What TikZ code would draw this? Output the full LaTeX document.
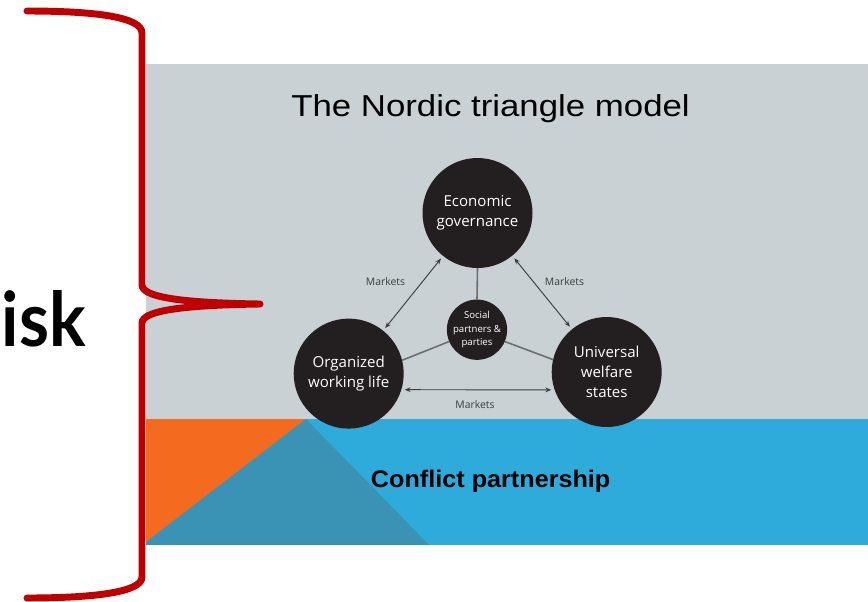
\documentclass[tikz,border=0pt]{standalone}
\usepackage{fontspec}
\usepackage{graphicx}
\setmainfont{Open Sans}
\newfontfamily\titlefont{Liberation Sans}
\newfontfamily\riskfont{Lato}
\usetikzlibrary{arrows.meta}
\definecolor{panelgray}{HTML}{C9D1D4}
\definecolor{bandblue}{HTML}{2EAADB}
\definecolor{bandteal}{HTML}{3A93B4}
\definecolor{bandorange}{HTML}{F46A1F}
\definecolor{bracketred}{HTML}{C00000}
\definecolor{discblack}{HTML}{231F20}
\definecolor{linkgray}{HTML}{6E6E6E}
\definecolor{arrowgray}{HTML}{3C3C3C}
\tikzset{
  disc/.style={circle, fill=discblack, text=white, inner sep=0pt, outer sep=0pt, align=center},
  bigdisc/.style={disc, minimum size=82.5pt, font=\fontsize{11.3}{15}\selectfont},
  smalldisc/.style={disc, minimum size=45pt, font=\fontsize{7.2}{10.3}\selectfont},
  link/.style={draw=linkgray, line width=1.2pt},
  mkt/.style={draw=arrowgray, line width=0.7pt, {Stealth[length=4.5pt,width=3.5pt]}-{Stealth[length=4.5pt,width=3.5pt]}, shorten <=2.5pt, shorten >=2.5pt},
  mktlabel/.style={font=\fontsize{7.8}{9}\selectfont, text=arrowgray, inner sep=0pt},
  brace/.style={draw=bracketred, line width=5.2pt, line cap=round, line join=round}
}
\begin{document}
\begin{tikzpicture}[x=0.75pt,y=-0.75pt]
\useasboundingbox (0,0) rectangle (868,601);
\fill[white] (0,0) rectangle (868,601);
% panels
\fill[panelgray] (146,64) rectangle (868,419);
\fill[bandblue] (146,419) rectangle (868,545);
\fill[bandorange] (146,419) -- (306,419) -- (146,542) -- cycle;
\fill[bandteal] (306,419) -- (146,542) -- (146,545) -- (429,545) -- cycle;
% title
\node[anchor=base west, inner sep=0pt, text=black] (title) at (291,116.7)
  {\scalebox{1.15}[1]{\titlefont\fontsize{22.7}{26}\selectfont The Nordic triangle model}};
% discs
\node[bigdisc] (eco) at (477.5,213) {Economic\\governance};
\node[bigdisc] (org) at (348.7,373.6) {Organized\\working life};
\node[bigdisc] (uni) at (606.7,372) {Universal\\welfare\\states};
\node[smalldisc] (soc) at (477,329.7) {Social\\partners \&\\parties};
% links to the centre
\draw[link] (eco.south) -- (soc.north);
\draw[link] (soc.203) -- (org.14.5);
\draw[link] (soc.-23) -- (uni.167);
% market arrows
\draw[mkt] (org) -- (eco);
\draw[mkt] (eco) -- (uni);
\draw[mkt] (org.-17) -- (uni.-161);
\node[mktlabel] (m1) at (385.5,282) {Markets};
\node[mktlabel] (m2) at (564.5,282) {Markets};
\node[mktlabel] (m3) at (475,405) {Markets};
% conflict partnership
\node[inner sep=0pt, text=black] (cp) at (490.7,481)
  {\scalebox{1.05}[1]{\titlefont\bfseries\fontsize{18}{20}\selectfont Conflict partnership}};
% isk
\node[anchor=base east, inner sep=0pt, text=black] (risk) at (86,346)
  {\resizebox{63pt}{42pt}{\riskfont\bfseries isk}};
% brace
\draw[brace] (27,11) .. controls (95,11) and (142,17) .. (142,33)
  -- (142,285) .. controls (142,299) and (195,303) .. (260,304)
  .. controls (195,305) and (142,309) .. (142,323)
  -- (142,577) .. controls (142,592) and (95,598) .. (27,598);
\end{tikzpicture}
\end{document}
